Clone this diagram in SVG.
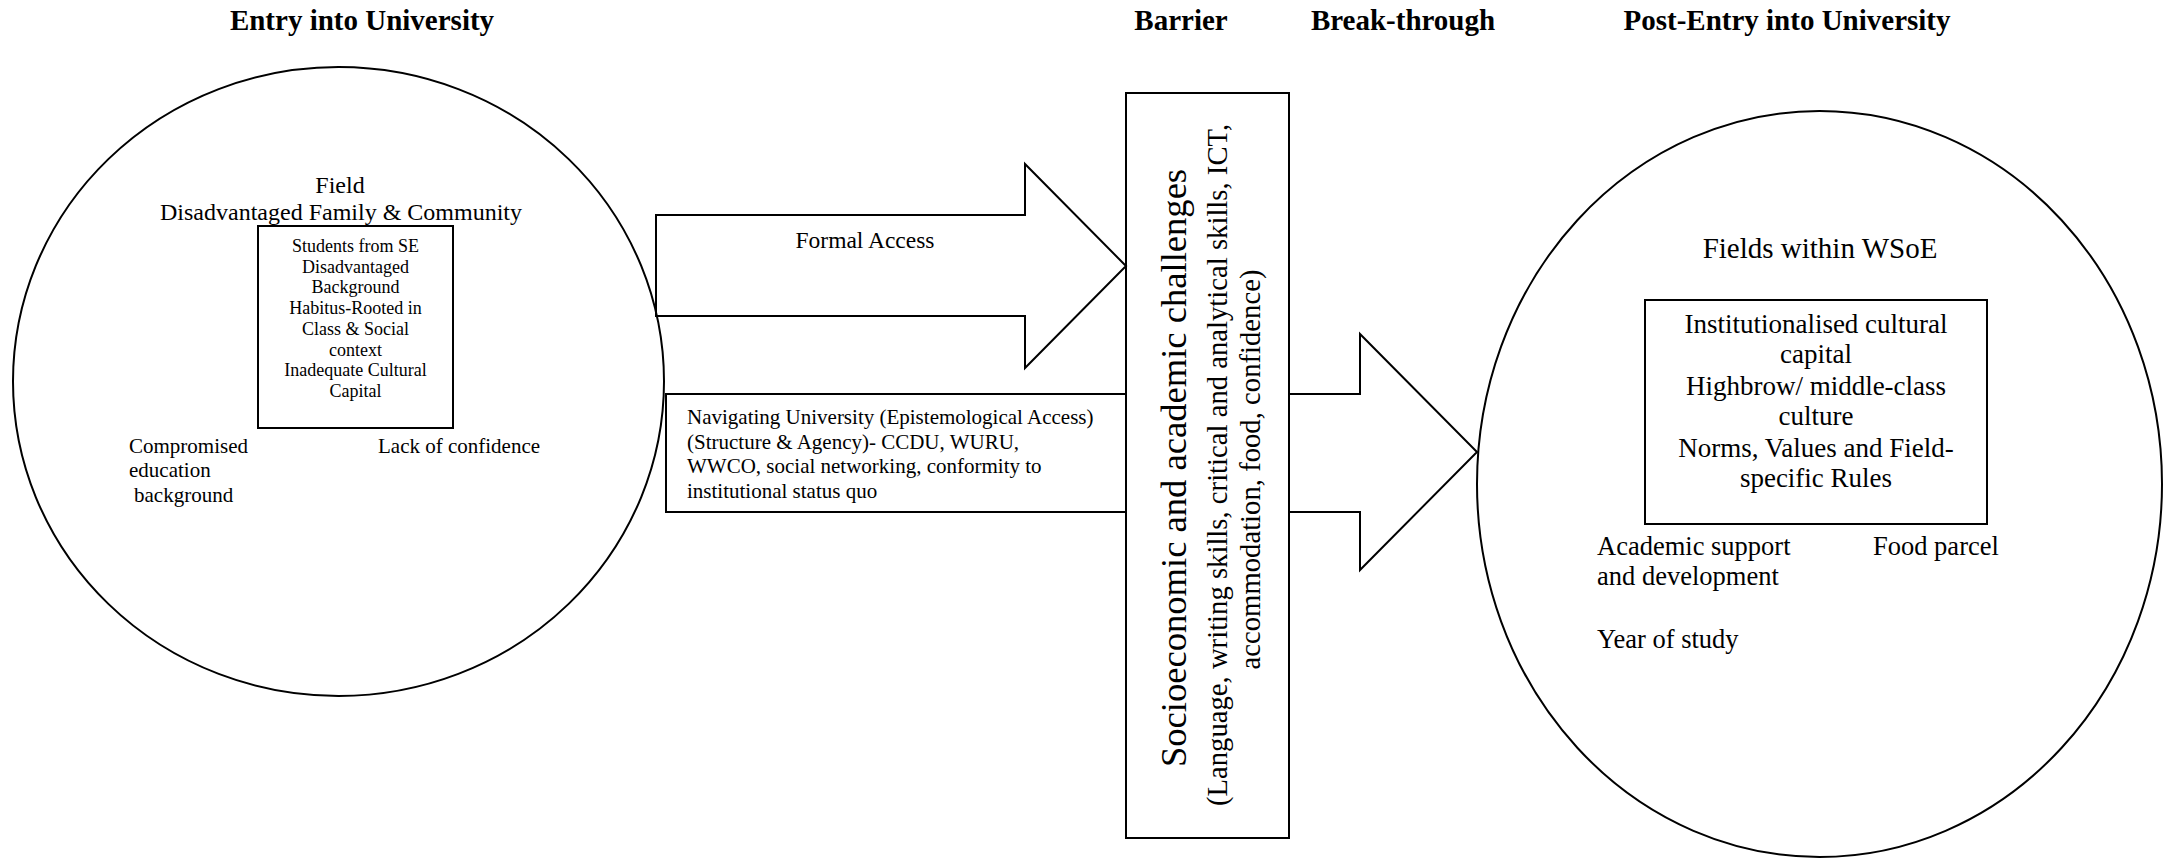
<svg xmlns="http://www.w3.org/2000/svg" width="2174" height="860" viewBox="0 0 2174 860">
<style>
text{font-family:"Liberation Serif","Times New Roman",serif;fill:#000}
.t{font-weight:bold;font-size:29px;text-anchor:middle}
.sh{fill:none;stroke:#000;stroke-width:2}
.c{text-anchor:middle}
.f18{font-size:18px}
.f21{font-size:21px}
.f24{font-size:24px}
.f26{font-size:26.5px}
.f27{font-size:27px}
</style>
<rect width="2174" height="860" fill="#fff"/>
<g id="titles">
<text class="t" x="362" y="30">Entry into University</text>
<text class="t" x="1181" y="30">Barrier</text>
<text class="t" x="1403" y="30">Break-through</text>
<text class="t" x="1787" y="30">Post-Entry into University</text>
</g>
<g id="connectors">
<polygon class="sh" points="656,215 1025,215 1025,164 1126,266 1025,368 1025,316 656,316"/>
<text class="c" x="865" y="248" style="font-size:23.5px">Formal Access</text>
<polyline class="sh" points="1289,394 1360,394 1360,334 1477,452 1360,570 1360,512 1289,512"/>
</g>
<g id="entry">
<ellipse class="sh" cx="338.5" cy="381.5" rx="325.5" ry="314.5"/>
<text class="c f24" x="340" y="193">Field</text>
<text class="c f24" x="341" y="220">Disadvantaged Family &amp; Community</text>
<text class="f21" x="129" y="453">Compromised</text>
<text class="f21" x="129" y="477">education</text>
<text class="f21" x="134" y="502">background</text>
<text class="f21" x="378" y="453">Lack of confidence</text>
</g>
<g id="students">
<rect class="sh" x="258" y="226" width="195" height="202"/>
<text class="c f18" x="355.5" y="252">Students from SE</text>
<text class="c f18" x="355.5" y="272.7">Disadvantaged</text>
<text class="c f18" x="355.5" y="293.4">Background</text>
<text class="c f18" x="355.5" y="314.1">Habitus-Rooted in</text>
<text class="c f18" x="355.5" y="334.8">Class &amp; Social</text>
<text class="c f18" x="355.5" y="355.5">context</text>
<text class="c f18" x="355.5" y="376.2">Inadequate Cultural</text>
<text class="c f18" x="355.5" y="396.9">Capital</text>
</g>
<g id="navigating">
<rect class="sh" x="666" y="394" width="460" height="118"/>
<text class="f21" x="687" y="424">Navigating University (Epistemological Access)</text>
<text class="f21" x="687" y="449">(Structure &amp; Agency)- CCDU, WURU,</text>
<text class="f21" x="687" y="473">WWCO, social networking, conformity to</text>
<text class="f21" x="687" y="498">institutional status quo</text>
</g>
<g id="barrier">
<rect class="sh" x="1126" y="93" width="163" height="745"/>
<text class="c" transform="translate(1186,468) rotate(-90)" style="font-size:36.6px">Socioeconomic and academic challenges</text>
<text class="c" transform="translate(1227,465) rotate(-90)" style="font-size:28.7px">(Language, writing skills, critical and analytical skills, ICT,</text>
<text class="c" transform="translate(1260,469.5) rotate(-90)" style="font-size:28.7px">accommodation, food, confidence)</text>
</g>
<g id="post-entry">
<ellipse class="sh" cx="1819.5" cy="484" rx="342.5" ry="373"/>
<text class="c" x="1820" y="258" style="font-size:29px">Fields within WSoE</text>
<text class="f26" x="1597" y="555">Academic support</text>
<text class="f26" x="1597" y="585">and development</text>
<text class="f26" x="1873" y="555">Food parcel</text>
<text class="f26" x="1597" y="648">Year of study</text>
</g>
<g id="wsoe-box">
<rect class="sh" x="1645" y="300" width="342" height="224"/>
<text class="c f27" x="1816" y="333">Institutionalised cultural</text>
<text class="c f27" x="1816" y="363">capital</text>
<text class="c f27" x="1816" y="395">Highbrow/ middle-class</text>
<text class="c f27" x="1816" y="425">culture</text>
<text class="c f27" x="1816" y="457">Norms, Values and Field-</text>
<text class="c f27" x="1816" y="487">specific Rules</text>
</g>
</svg>
